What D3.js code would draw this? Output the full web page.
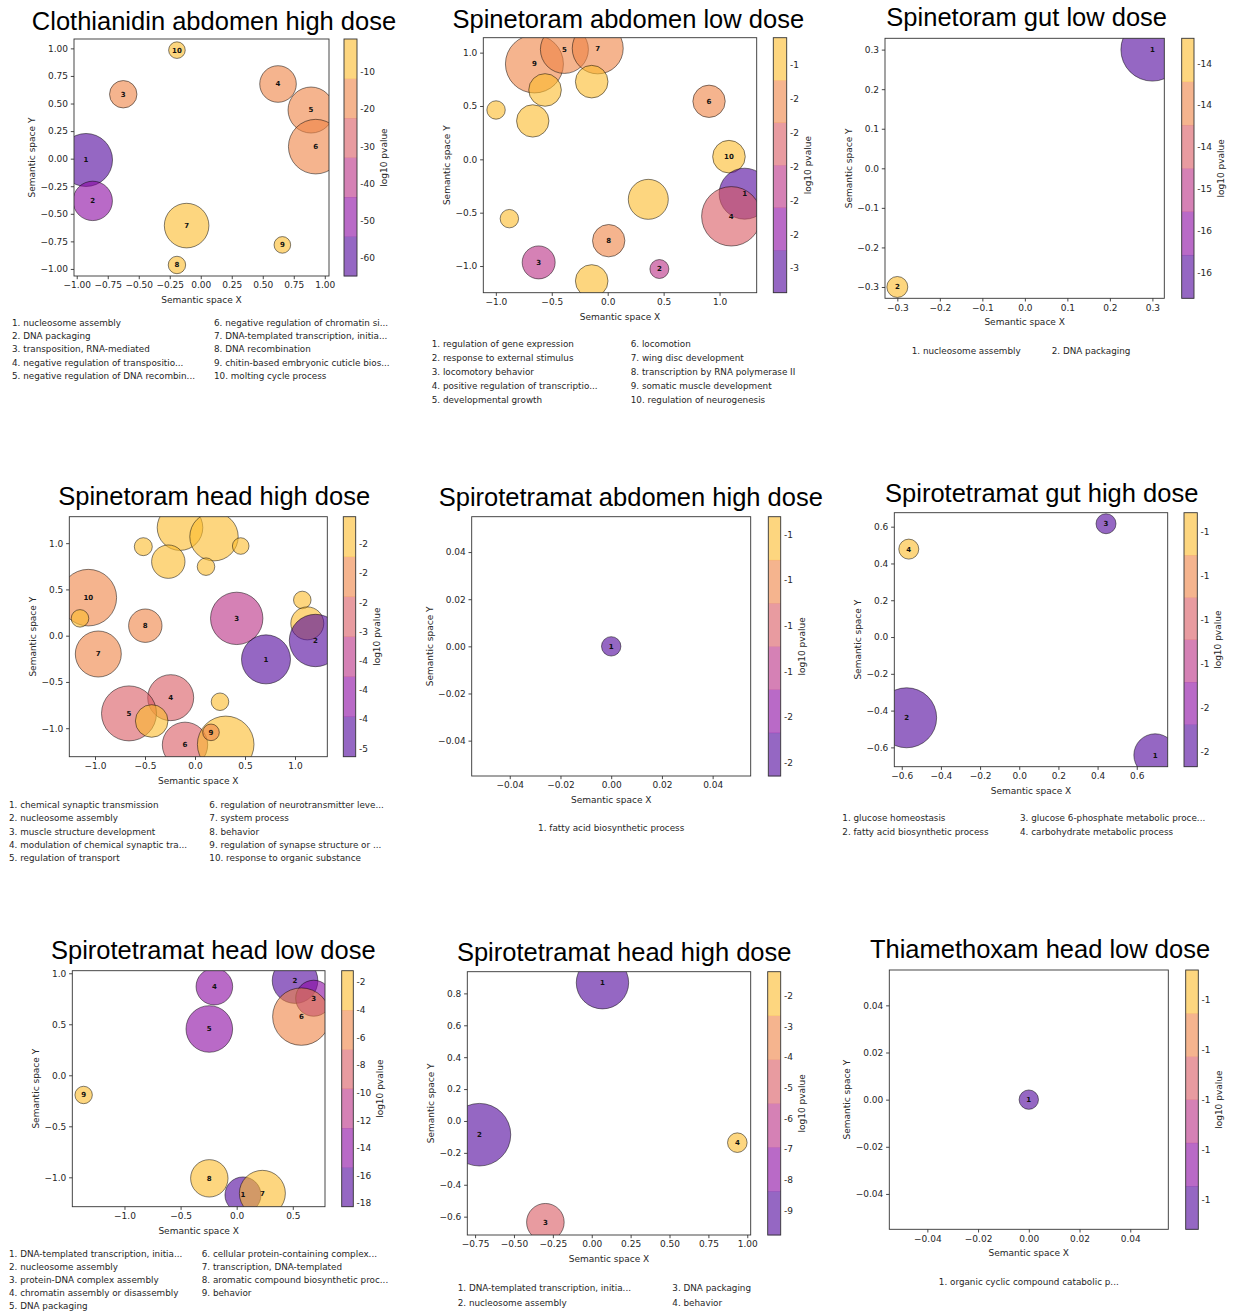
<!DOCTYPE html>
<html>
<head>
<meta charset="utf-8">
<script src="https://cdn.jsdelivr.net/npm/d3@7"></script>
<style>
  body { margin: 0; background: #fff; }
  svg { font-family: "DejaVu Sans", sans-serif; }
</style>
</head>
<body>
<svg id="chart" width="1233" height="1314"></svg>
<script>
// ---- data (one row per panel) ----
const TITLES = [
  'Clothianidin abdomen high dose',
  'Spinetoram abdomen low dose',
  'Spinetoram gut low dose',
  'Spinetoram head high dose',
  'Spirotetramat abdomen high dose',
  'Spirotetramat gut high dose',
  'Spirotetramat head low dose',
  'Spirotetramat head high dose',
  'Thiamethoxam head low dose'
];

const TERMS = [
  ['nucleosome assembly', 'DNA packaging', 'transposition, RNA-mediated', 'negative regulation of transpositio...',
   'negative regulation of DNA recombin...', 'negative regulation of chromatin si...', 'DNA-templated transcription, initia...',
   'DNA recombination', 'chitin-based embryonic cuticle bios...', 'molting cycle process'],
  ['regulation of gene expression', 'response to external stimulus', 'locomotory behavior', 'positive regulation of transcriptio...',
   'developmental growth', 'locomotion', 'wing disc development', 'transcription by RNA polymerase II',
   'somatic muscle development', 'regulation of neurogenesis'],
  ['nucleosome assembly', 'DNA packaging'],
  ['chemical synaptic transmission', 'nucleosome assembly', 'muscle structure development', 'modulation of chemical synaptic tra...',
   'regulation of transport', 'regulation of neurotransmitter leve...', 'system process', 'behavior',
   'regulation of synapse structure or ...', 'response to organic substance'],
  ['fatty acid biosynthetic process'],
  ['glucose homeostasis', 'fatty acid biosynthetic process', 'glucose 6-phosphate metabolic proce...', 'carbohydrate metabolic process'],
  ['DNA-templated transcription, initia...', 'nucleosome assembly', 'protein-DNA complex assembly', 'chromatin assembly or disassembly',
   'DNA packaging', 'cellular protein-containing complex...', 'transcription, DNA-templated', 'aromatic compound biosynthetic proc...',
   'behavior'],
  ['DNA-templated transcription, initia...', 'nucleosome assembly', 'DNA packaging', 'behavior'],
  ['organic cyclic compound catabolic p...']
];

// circle number shown inside the bubble ('' = not among the listed terms)
const CIRCLE_ID = [
  ['1', '2', '3', '4', '5', '6', '7', '8', '9', '10'],
  ['9', '5', '7', '', '', '', '', '6', '10', '1', '4', '', '', '8', '3', '2', ''],
  ['1', '2'],
  ['', '', '', '', '', '', '10', '', '8', '7', '3', '', '', '2', '1', '4', '5', '', '', '6', '', '9'],
  ['1'],
  ['1', '2', '3', '4'],
  ['1', '2', '3', '4', '5', '6', '7', '8', '9'],
  ['1', '2', '3', '4'],
  ['1']
];

const CIRCLE_X = [
  [-0.925, -0.871, -0.625, 0.623, 0.889, 0.927, -0.114, -0.192, 0.658, -0.192],
  [-0.655, -0.387, -0.089, -0.56, -0.143, -0.998, -0.67, 0.906, 1.084, 1.224, 1.105, 0.363, -0.879, 0.009, -0.617, 0.462, -0.143],
  [0.3, -0.3],
  [-0.15, 0.19, -0.517, 0.457, -0.267, 0.11, -1.067, -1.15, -0.497, -0.967, 0.417, 1.073, 1.123, 1.205, 0.71, -0.243, -0.66, -0.433, 0.25, -0.1, 0.307, 0.16],
  [0],
  [0.694, -0.575, 0.443, -0.564],
  [0.056, 0.52, 0.686, -0.199, -0.244, 0.576, 0.229, -0.244, -1.364],
  [0.069, -0.722, -0.298, 0.936],
  [0]
];

const CIRCLE_Y = [
  [-0.012, -0.383, 0.584, 0.677, 0.441, 0.109, -0.607, -0.964, -0.782, 0.984],
  [0.894, 1.03, 1.04, 0.65, 0.728, 0.4625, 0.36, 0.544, 0.025, -0.322, -0.534, -0.375, -0.556, -0.7625, -0.966, -1.028, -1.14],
  [0.3, -0.3],
  [1.168, 1.07, 0.962, 0.969, 0.8, 0.746, 0.411, 0.187, 0.108, -0.198, 0.187, 0.386, 0.133, -0.052, -0.256, -0.67, -0.84, -0.922, -0.714, -1.18, -1.175, -1.045],
  [0],
  [-0.642, -0.439, 0.616, 0.478],
  [-1.173, 0.928, 0.755, 0.869, 0.454, 0.575, -1.157, -1.01, -0.193],
  [0.867, -0.086, -0.635, -0.136],
  [0]
];

// bubble size (area units)
const CIRCLE_SIZE = [
  [702, 388, 188, 335, 529, 745, 497, 76, 69, 69],
  [841, 576, 650, 266, 266, 85, 262, 262, 266, 650, 882, 400, 85, 262, 272, 90, 266],
  [992, 110],
  [520, 586, 81, 69, 279, 77, 801, 77, 279, 529, 686, 77, 272, 686, 600, 529, 756, 266, 77, 515, 801, 69],
  [94],
  [454, 900, 100, 100],
  [324, 520, 324, 335, 543, 824, 529, 350, 76],
  [686, 980, 353, 96],
  [94]
];

// log10 p-value of each bubble
const CIRCLE_LOGP = [
  [-64.8, -50.5, -16, -18, -20, -19, -3, -2, -1.1, -4],
  [-1.5, -1.45, -1.55, -1.2, -1.1, -1.3, -1.2, -1.6, -1.3, -2.93, -1.85, -1.05, -1.2, -1.5, -2.1, -2.2, -1.25],
  [-16.31, -13.2],
  [-1.2, -1.1, -1.3, -1.4, -1.5, -1.3, -2.0, -1.6, -2.1, -2.2, -3.4, -1.2, -1.4, -5.0, -5.14, -2.8, -2.9, -1.5, -1.03, -2.6, -1.3, -2.0],
  [-1.4225],
  [-1.567, -1.567, -1.56, -1.278],
  [-18.25, -17, -14, -13.5, -13, -5.5, -3, -2.5, -1.16],
  [-9.79, -9.5, -5.0, -1.22],
  [-1.04]
];

const X_LIMITS = [[-1.022, 1.034], [-1.112, 1.332], [-0.329, 0.328], [-1.257, 1.323], [-0.055, 0.055],
                  [-0.638, 0.758], [-1.465, 0.787], [-0.8, 1.022], [-0.055, 0.055]];
const Y_LIMITS = [[-1.064, 1.085], [-1.25, 1.14], [-0.3286, 0.3286], [-1.308, 1.286], [-0.055, 0.055],
                  [-0.705, 0.676], [-1.288, 1.025], [-0.715, 0.936], [-0.055, 0.055]];

const X_TICKS = [
  [-1, -0.75, -0.5, -0.25, 0, 0.25, 0.5, 0.75, 1],
  [-1, -0.5, 0, 0.5, 1],
  [-0.3, -0.2, -0.1, 0, 0.1, 0.2, 0.3],
  [-1, -0.5, 0, 0.5, 1],
  [-0.04, -0.02, 0, 0.02, 0.04],
  [-0.6, -0.4, -0.2, 0, 0.2, 0.4, 0.6],
  [-1, -0.5, 0, 0.5],
  [-0.75, -0.5, -0.25, 0, 0.25, 0.5, 0.75, 1],
  [-0.04, -0.02, 0, 0.02, 0.04]
];
const Y_TICKS = [
  [-1, -0.75, -0.5, -0.25, 0, 0.25, 0.5, 0.75, 1],
  [-1, -0.5, 0, 0.5, 1],
  [-0.3, -0.2, -0.1, 0, 0.1, 0.2, 0.3],
  [-1, -0.5, 0, 0.5, 1],
  [-0.04, -0.02, 0, 0.02, 0.04],
  [-0.6, -0.4, -0.2, 0, 0.2, 0.4, 0.6],
  [-1, -0.5, 0, 0.5, 1],
  [-0.6, -0.4, -0.2, 0, 0.2, 0.4, 0.6, 0.8],
  [-0.04, -0.02, 0, 0.02, 0.04]
];
const X_FMT = ['.2f', '.1f', '.1f', '.1f', '.2f', '.1f', '.1f', '.2f', '.2f'];
const Y_FMT = ['.2f', '.1f', '.1f', '.1f', '.2f', '.1f', '.1f', '.1f', '.2f'];

// colorbar ticks (labels printed as rounded integers)
const CB_TICKS = [
  [-10, -20, -30, -40, -50, -60],
  [-1.25, -1.5, -1.75, -2, -2.25, -2.5, -2.75],
  [-13.5, -14, -14.5, -15, -15.5, -16],
  [-1.5, -2, -2.5, -3, -3.5, -4, -4.5, -5],
  [-1.3, -1.35, -1.4, -1.45, -1.5, -1.55],
  [-1.3, -1.35, -1.4, -1.45, -1.5, -1.55],
  [-2, -4, -6, -8, -10, -12, -14, -16, -18],
  [-2, -3, -4, -5, -6, -7, -8, -9],
  [-0.96, -1, -1.04, -1.08, -1.12]
];

// ---- layout / style ----
const BAND_COLORS = ['#4e029b', '#8a07a2', '#b92d84', '#d95861', '#ee8243', '#fcbb2a'];
const ALPHA = 0.6;
const LINE = '#333';
const TXT = '#262626';

const LAYOUT = [
  { plot: [74, 39, 255, 237],        cb: [344, 13],    title: [214, 29.5],   legend: [12, 214, 323, 13.2] },
  { plot: [483.3, 37.7, 273.4, 255], cb: [773.3, 13.4], title: [628.3, 28],  legend: [431.7, 630.7, 344, 14] },
  { plot: [885, 38.3, 279.3, 260],   cb: [1181.7, 12.3], title: [1026.7, 26], legend: [911.7, 1051.7, 350.7, 14] },
  { plot: [69.3, 516.7, 258, 240],   cb: [343.3, 12.4], title: [214.2, 505], legend: [9, 209.3, 805, 13.3] },
  { plot: [471.7, 516.7, 279, 259.3], cb: [768.3, 12.4], title: [630.8, 505.7], legend: [611.2, 0, 827.7, 14] },
  { plot: [894.3, 512.7, 273.4, 254], cb: [1184, 13.3], title: [1041.7, 501.7], legend: [842.3, 1020, 817.7, 14] },
  { plot: [72.3, 970.7, 252.7, 236], cb: [341.7, 11.6], title: [213.3, 959.3], legend: [9, 201.7, 1254, 13] },
  { plot: [467.3, 971.7, 283.4, 263.3], cb: [767.7, 13], title: [624.2, 960.7], legend: [457.7, 672.3, 1288.3, 14.4] },
  { plot: [889.3, 970, 279, 259.3],  cb: [1185.7, 12.6], title: [1040, 958.3], legend: [1028.8, 0, 1281.7, 14] }
];

// '%.0f' style: round half to even
function fmtInt(v) {
  const f = Math.floor(v);
  const r = Math.abs(v - f - 0.5) < 1e-9 ? (f % 2 === 0 ? f : f + 1) : Math.round(v);
  return String(r === 0 ? 0 : r);
}

const svg = d3.select('#chart');
const defs = svg.append('defs');
const radius = d3.scaleSqrt().domain([0, 1000]).range([0, Math.sqrt(1000)]);

TITLES.forEach((title, i) => {
  const L = LAYOUT[i];
  const [px, py, pw, ph] = L.plot;
  const g = svg.append('g');

  const x = d3.scaleLinear().domain(X_LIMITS[i]).range([px, px + pw]);
  const y = d3.scaleLinear().domain(Y_LIMITS[i]).range([py + ph, py]);

  const logp = CIRCLE_LOGP[i];
  const [lo, hi] = d3.extent(logp);
  const flat = lo === hi;
  const cbLo = flat ? lo - 0.1 * Math.abs(lo) : lo;
  const cbHi = flat ? hi + 0.1 * Math.abs(hi) : hi;
  const bandOf = v => flat ? 0 : Math.min(5, Math.floor((v - lo) / (hi - lo) * 6));

  const pts = logp.map((v, k) => ({
    x: CIRCLE_X[i][k], y: CIRCLE_Y[i][k], s: CIRCLE_SIZE[i][k], v, id: CIRCLE_ID[i][k]
  }));

  // title
  g.append('text')
    .attr('x', L.title[0]).attr('y', L.title[1])
    .attr('text-anchor', 'middle')
    .attr('font-family', '"Liberation Sans", Arial, sans-serif')
    .attr('font-size', 25.5)
    .attr('fill', '#000')
    .text(title);

  // bubbles
  defs.append('clipPath').attr('id', 'clip' + i)
    .append('rect').attr('x', px).attr('y', py).attr('width', pw).attr('height', ph);

  g.append('g').attr('clip-path', `url(#clip${i})`)
    .selectAll('circle').data(pts).join('circle')
    .attr('cx', d => x(d.x)).attr('cy', d => y(d.y))
    .attr('r', d => radius(d.s))
    .attr('fill', d => BAND_COLORS[bandOf(d.v)])
    .attr('fill-opacity', ALPHA)
    .attr('stroke', '#000').attr('stroke-opacity', 0.55).attr('stroke-width', 0.9);

  g.append('g').selectAll('text').data(pts.filter(d => d.id)).join('text')
    .attr('x', d => x(d.x)).attr('y', d => y(d.y))
    .attr('dy', '0.35em')
    .attr('text-anchor', 'middle')
    .attr('font-size', 7).attr('font-weight', 'bold').attr('fill', '#111')
    .text(d => d.id);

  // frame
  g.append('rect').attr('x', px).attr('y', py).attr('width', pw).attr('height', ph)
    .attr('fill', 'none').attr('stroke', LINE).attr('stroke-width', 0.9);

  // axes
  const xa = g.append('g').attr('transform', `translate(0,${py + ph})`)
    .call(d3.axisBottom(x).tickValues(X_TICKS[i]).tickFormat(d3.format(X_FMT[i]))
      .tickSize(3.2).tickPadding(2.8).tickSizeOuter(0));
  const ya = g.append('g').attr('transform', `translate(${px},0)`)
    .call(d3.axisLeft(y).tickValues(Y_TICKS[i]).tickFormat(d3.format(Y_FMT[i]))
      .tickSize(3.2).tickPadding(2.8).tickSizeOuter(0));
  [xa, ya].forEach(a => {
    a.attr('font-family', '"DejaVu Sans", sans-serif').attr('font-size', 9);
    a.select('.domain').remove();
    a.selectAll('line').attr('stroke', LINE).attr('stroke-width', 0.9);
    a.selectAll('text').attr('fill', TXT);
  });

  g.append('text')
    .attr('x', px + pw / 2).attr('y', py + ph + 24).attr('dy', '0.35em')
    .attr('text-anchor', 'middle').attr('font-size', 9).attr('fill', TXT)
    .text('Semantic space X');

  // y-axis group is translated by px, so its bbox is local
  const yb = ya.node().getBBox();
  g.append('text')
    .attr('transform', `translate(${px + yb.x - 8.5},${py + ph / 2}) rotate(-90)`)
    .attr('dy', '0.35em')
    .attr('text-anchor', 'middle').attr('font-size', 9).attr('fill', TXT)
    .text('Semantic space Y');

  // colorbar
  const [cx, cw] = L.cb;
  const cbScale = d3.scaleLinear().domain([cbLo, cbHi]).range([py + ph, py]);
  const bandH = ph / 6;
  g.append('g').selectAll('rect').data(d3.range(6)).join('rect')
    .attr('x', cx).attr('width', cw)
    .attr('y', k => py + ph - (k + 1) * bandH).attr('height', bandH + 0.3)
    .attr('fill', k => BAND_COLORS[k]).attr('fill-opacity', ALPHA);
  g.append('rect').attr('x', cx).attr('y', py).attr('width', cw).attr('height', ph)
    .attr('fill', 'none').attr('stroke', LINE).attr('stroke-width', 0.9);

  const cbLabels = g.append('g');
  cbLabels.selectAll('text').data(CB_TICKS[i]).join('text')
    .attr('x', cx + cw + 3.3).attr('y', d => cbScale(d)).attr('dy', '0.35em')
    .attr('font-size', 9).attr('fill', TXT)
    .text(d => fmtInt(d));
  const cbb = cbLabels.node().getBBox();
  g.append('text')
    .attr('transform', `translate(${cbb.x + cbb.width + 8.5},${py + ph / 2}) rotate(-90)`)
    .attr('dy', '0.35em')
    .attr('text-anchor', 'middle').attr('font-size', 9).attr('fill', TXT)
    .text('log10 pvalue');

  // term legend below the plot
  const terms = TERMS[i];
  const [lx1, lx2, ly0, ldy] = L.legend;
  const rows = Math.ceil(terms.length / 2);
  g.append('g').selectAll('text').data(terms).join('text')
    .attr('x', (t, k) => terms.length === 1 ? lx1 : (k < rows ? lx1 : lx2))
    .attr('y', (t, k) => ly0 + (k < rows ? k : k - rows) * ldy)
    .attr('dy', '0.35em')
    .attr('text-anchor', terms.length === 1 ? 'middle' : 'start')
    .attr('font-size', 8.8).attr('fill', TXT)
    .text((t, k) => `${k + 1}. ${t}`);
});
</script>
</body>
</html>
